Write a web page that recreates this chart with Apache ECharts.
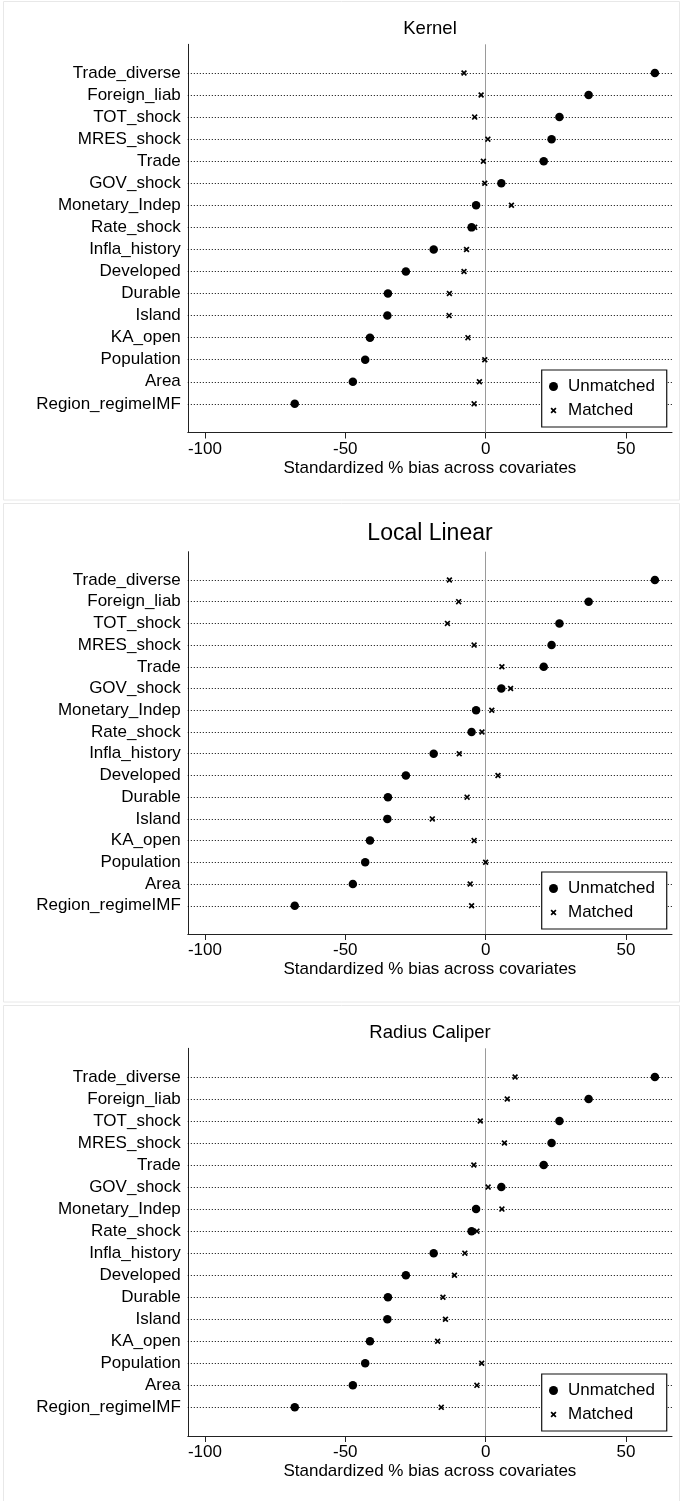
<!DOCTYPE html>
<html>
<head>
<meta charset="utf-8">
<script src="https://cdn.jsdelivr.net/npm/echarts@6/dist/echarts.min.js"></script>
<style>
html, body { margin: 0; padding: 0; background: #fff; }
#chart { width: 690px; height: 1501px; }
</style>
</head>
<body>
<div id="chart"></div>
<script>
// covariates, top to bottom
var covariates = ['Trade_diverse', 'Foreign_liab', 'TOT_shock', 'MRES_shock', 'Trade', 'GOV_shock',
  'Monetary_Indep', 'Rate_shock', 'Infla_history', 'Developed', 'Durable', 'Island', 'KA_open',
  'Population', 'Area', 'Region_regimeIMF'];

// standardized % bias before matching (same in every panel)
var unmatched = [60.3, 36.7, 26.3, 23.5, 20.7, 5.6, -3.4, -5.0, -18.5, -28.4, -34.8, -35.0, -41.2, -42.9, -47.3, -68.0];

// after matching, one array per method
var matchedKernel = [-7.7, -1.6, -3.9, 0.8, -0.8, -0.3, 9.2, -3.9, -6.8, -7.7, -12.9, -13.0, -6.3, -0.3, -2.2, -4.1];
var matchedLocalLinear = [-12.9, -9.6, -13.6, -4.1, 5.8, 8.9, 2.2, -1.3, -9.4, 4.4, -6.6, -19.0, -4.1, 0.0, -5.5, -5.0];
var matchedRadius = [10.5, 7.7, -1.9, 6.7, -4.2, 0.9, 5.8, -3.1, -7.4, -11.1, -15.2, -14.3, -17.1, -1.4, -3.1, -15.8];

var panelTitles = ['Kernel', 'Local Linear', 'Radius Caliper'];
var xTicks = [-100, -50, 0, 50];
var xTitle = 'Standardized % bias across covariates';

var matchedSets = [matchedKernel, matchedLocalLinear, matchedRadius];

// layout of the three stacked panels
var panels = [
  { top: 44.3, height: 388.2, titleTop: 19.5, titleSize: 18.5, legendTop: 370, box: 1.5 },
  { top: 551.7, height: 382.3, titleTop: 522.3, titleSize: 23, legendTop: 872, box: 503.5 },
  { top: 1048.3, height: 387.7, titleTop: 1023.7, titleSize: 18.5, legendTop: 1374, box: 1005.5 }
];

var font = 'Liberation Sans, Arial, Helvetica, sans-serif';
var crossPath = 'path://M0,2L2,0L5,3L8,0L10,2L7,5L10,8L8,10L5,7L2,10L0,8L3,5Z';
var legendCross = 'path://M-2.5,-2.5M12.5,12.5M0,2L2,0L5,3L8,0L10,2L7,5L10,8L8,10L5,7L2,10L0,8L3,5Z';

var option = {
  animation: false,
  title: [],
  grid: [],
  xAxis: [],
  yAxis: [],
  legend: [],
  series: [],
  graphic: []
};

panels.forEach(function (p, i) {
  option.graphic.push({
    type: 'rect',
    silent: true,
    z: -10,
    shape: { x: 3.5, y: p.box, width: 676, height: 498.5 },
    style: { fill: '#fff', stroke: '#e8e8e8', lineWidth: 1 }
  });

  option.title.push({
    text: panelTitles[i],
    left: 430,
    top: p.titleTop,
    textAlign: 'center',
    padding: 0,
    textStyle: { fontSize: p.titleSize, fontWeight: 'normal', color: '#000', fontFamily: font }
  });

  option.grid.push({ left: 187.8, width: 484.2, top: p.top, height: p.height });

  option.xAxis.push({
    type: 'value',
    gridIndex: i,
    min: -106.1,
    max: 66.4,
    axisLine: { show: true, onZero: false, lineStyle: { color: '#222', width: 1 } },
    axisTick: { show: true, length: 6, customValues: xTicks, lineStyle: { color: '#222' } },
    axisLabel: { customValues: xTicks, fontSize: 17, color: '#000', margin: 8, fontFamily: font },
    splitLine: { show: false },
    name: xTitle,
    nameLocation: 'middle',
    nameGap: 27,
    nameTextStyle: { fontSize: 17, color: '#000', fontFamily: font }
  });

  option.yAxis.push({
    type: 'value',
    gridIndex: i,
    inverse: true,
    min: -1.3,
    max: 16.3,
    axisLine: { show: true, onZero: false, lineStyle: { color: '#222', width: 1 } },
    axisTick: { show: false },
    splitLine: { show: false },
    axisLabel: {
      customValues: covariates.map(function (c, k) { return k; }),
      formatter: function (v) { return covariates[v]; },
      fontSize: 17,
      color: '#000',
      margin: 7,
      fontFamily: font
    }
  });

  option.legend.push({
    orient: 'vertical',
    left: 541.7,
    top: p.legendTop,
    padding: [8, 11.8, 8, 7.3],
    itemWidth: 9,
    itemHeight: 14,
    itemGap: 7,
    selectedMode: false,
    backgroundColor: '#fff',
    borderColor: '#111',
    borderWidth: 1.2,
    borderRadius: 0,
    itemStyle: { opacity: 1 },
    textStyle: { fontSize: 17, color: '#000', fontFamily: font, lineHeight: 17, padding: [0, 0, 0, 5] },
    data: [{ name: 'Unmatched', icon: 'circle' }, { name: 'Matched', icon: legendCross }]
  });

  // dotted guide lines and the zero line
  var guides = covariates.map(function (c, k) {
    return { yAxis: k, lineStyle: { type: [1, 2], color: '#000', width: 1 } };
  });
  guides.push({ xAxis: 0, lineStyle: { type: 'solid', color: '#9a9a9a', width: 1 } });

  option.series.push({
    type: 'scatter',
    xAxisIndex: i,
    yAxisIndex: i,
    data: [],
    silent: true,
    z: 1,
    markLine: {
      silent: true,
      symbol: 'none',
      z: 1,
      label: { show: false },
      emphasis: { disabled: true },
      data: guides
    }
  });

  option.series.push({
    name: 'Unmatched',
    type: 'scatter',
    xAxisIndex: i,
    yAxisIndex: i,
    symbol: 'circle',
    symbolSize: 8.5,
    z: 3,
    itemStyle: { color: '#000', opacity: 1 },
    data: unmatched.map(function (v, k) { return [v, k]; })
  });

  option.series.push({
    name: 'Matched',
    type: 'scatter',
    xAxisIndex: i,
    yAxisIndex: i,
    symbol: crossPath,
    symbolSize: 6,
    z: 4,
    itemStyle: { color: '#000', opacity: 1 },
    data: matchedSets[i].map(function (v, k) { return [v, k]; })
  });
});

var myChart = echarts.init(document.getElementById('chart'), null, { renderer: 'canvas' });
myChart.setOption(option);
</script>
</body>
</html>
